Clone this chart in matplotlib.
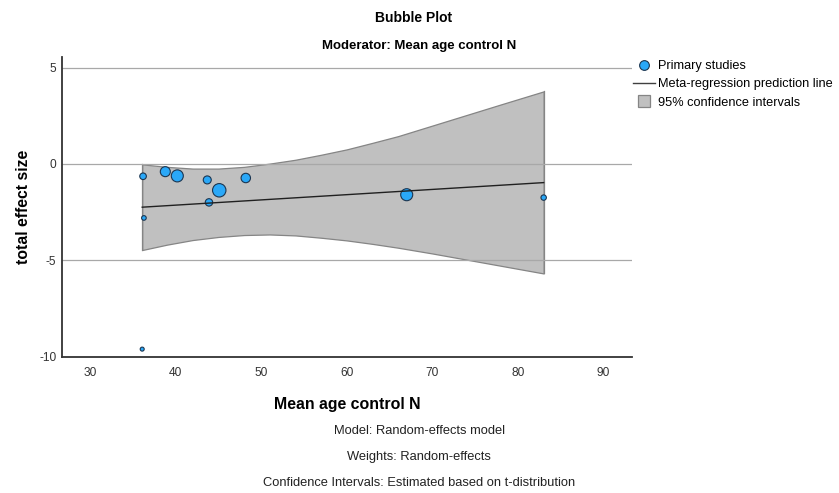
import numpy as np
import matplotlib
matplotlib.use("Agg")
import matplotlib.pyplot as plt
from matplotlib.lines import Line2D

plt.rcParams['font.family'] = ['Liberation Sans', 'DejaVu Sans']
plt.rcParams['axes.unicode_minus'] = False

# primary studies: moderator value, effect size, relative weight (%)
age = [36.2, 38.8, 40.2, 43.7, 45.1, 43.9, 48.2, 36.3, 67.0, 83.0, 36.1]
effect = [-0.64, -0.40, -0.62, -0.83, -1.37, -2.00, -0.73, -2.81, -1.60, -1.75, -9.64]
weight = [4.9, 11.3, 16.3, 7.2, 20.3, 6.2, 10.0, 2.4, 16.3, 3.3, 1.8]

# meta-regression prediction line
line_x = [36.1, 83.0]
line_y = [-2.25, -0.97]

# 95% confidence band
band_x = [36.1, 39, 42, 45, 48, 51, 54, 57, 60, 63, 66, 70, 74, 78, 83.0]
band_hi = [-0.02, -0.15, -0.24, -0.24, -0.15, 0.02, 0.22, 0.48, 0.76, 1.10,
           1.45, 2.00, 2.55, 3.10, 3.78]
band_lo = [-4.48, -4.20, -3.96, -3.80, -3.70, -3.67, -3.72, -3.84, -3.98,
           -4.16, -4.36, -4.66, -4.98, -5.30, -5.70]

x_ticks = [30, 40, 50, 60, 70, 80, 90]
y_ticks = [-10, -5, 0, 5]

fig = plt.figure(figsize=(8.39, 4.93), dpi=100)
ax = fig.add_axes([62/839, 1 - 357/493, 570/839, 300/493])

ax.fill_between(band_x, band_lo, band_hi, facecolor='#c0c0c0',
                edgecolor='#858585', linewidth=0.9, zorder=1)
# close the band at both ends
ax.plot([band_x[0], band_x[0]], [band_lo[0], band_hi[0]], color='#858585', lw=0.9, zorder=1)
ax.plot([band_x[-1], band_x[-1]], [band_lo[-1], band_hi[-1]], color='#858585', lw=0.9, zorder=1)

for yv in [-5, 0, 5]:
  ax.axhline(yv, color='#a8a8a8', lw=0.9, zorder=2)

ax.scatter(age, effect, s=np.array(weight) * 4.6, color='#2aa8f8',
           edgecolors='#1b3550', linewidths=0.8, zorder=4)
ax.plot(line_x, line_y, color='#202020', lw=1.0, zorder=5)

ax.set_xlim(26.73, 93.32)
ax.set_ylim(-10.05, 5.57)
ax.set_xticks(x_ticks)
ax.set_yticks(y_ticks)
ax.tick_params(length=0, labelsize=8.6, colors='#333333')
ax.tick_params(axis='x', pad=7)
ax.tick_params(axis='y', pad=4)
for side in ['top', 'right']:
  ax.spines[side].set_visible(False)
for side in ['left', 'bottom']:
  ax.spines[side].set_color('#333333')
  ax.spines[side].set_linewidth(1.3)

ax.set_xlabel("Mean age control N", fontsize=11.4, fontweight='bold', labelpad=13)
ax.set_ylabel("total effect size", fontsize=11.3, fontweight='bold', labelpad=6)

fig.text(0.4925, 1 - 18/493, "Bubble Plot", ha='center', va='center',
         fontsize=10, fontweight='bold')
fig.text(0.4995, 1 - 46/493, "Moderator: Mean age control N", ha='center',
         va='center', fontsize=9.5, fontweight='bold')

notes = ["Model: Random-effects model", "Weights: Random-effects",
         "Confidence Intervals: Estimated based on t-distribution"]
for i, txt in enumerate(notes):
  fig.text(0.4995, 1 - (431 + 26*i)/493, txt, ha='center', va='center',
           fontsize=9.3, color='#222222')

handles = [
  Line2D([0], [0], ls='none', marker='o', markersize=7, markerfacecolor='#2aa8f8',
         markeredgecolor='#1b3550', markeredgewidth=0.8),
  Line2D([0], [0], color='#404040', lw=1.0),
  Line2D([0], [0], ls='none', marker='s', markersize=9, markerfacecolor='#c0c0c0',
         markeredgecolor='#858585', markeredgewidth=0.9),
]
labels = ["Primary studies", "Meta-regression prediction line",
          "95% confidence intervals"]
fig.legend(handles, labels, loc='upper left', bbox_to_anchor=(633/839, 1 - 60/493),
           frameon=False, fontsize=9.2, handlelength=1.75, handletextpad=0.2,
           labelspacing=0.5, borderpad=0, borderaxespad=0)

fig.savefig("out.png", dpi=100)
